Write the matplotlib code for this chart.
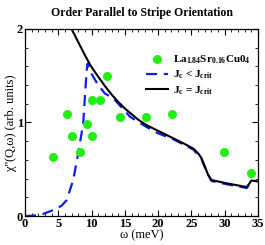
import numpy as np
import matplotlib
matplotlib.use("Agg")
import matplotlib.pyplot as plt
from matplotlib.ticker import MultipleLocator

plt.rcParams['font.family'] = ['Liberation Serif', 'DejaVu Serif']
plt.rcParams['font.weight'] = 'bold'
plt.rcParams['mathtext.fontset'] = 'custom'
plt.rcParams['mathtext.rm'] = 'Liberation Serif:bold'
plt.rcParams['mathtext.it'] = 'Liberation Serif:bold'
plt.rcParams['mathtext.bf'] = 'Liberation Serif:bold'

# Messpunkte (LSCO)
w_data = [4.25, 6.26, 7.1, 8.26, 9.26, 10.06, 10.1, 11.3, 12.3, 14.2, 18.2, 22.1, 29.9, 33.9]
chi_data = [0.63, 1.09, 0.86, 0.69, 0.98, 0.86, 1.24, 1.24, 1.50, 1.06, 1.06, 1.09, 0.69, 0.46]

# J_c = J_crit (schwarz)
w_black = [7.0, 7.5, 8.0, 8.5, 9.0, 9.76, 10.5, 11.3, 12.0, 13.0, 14.0, 15.0, 16.0, 17.0,
           18.3, 20.3, 22.3, 24.0, 25.3, 26.0, 26.5, 27.0, 27.5, 28.0, 30.3, 33.3, 33.7,
           34.0, 35.0]
chi_black = [2.0, 1.93, 1.86, 1.79, 1.72, 1.62, 1.54, 1.46, 1.39, 1.30, 1.22, 1.15, 1.09,
             1.03, 0.97, 0.90, 0.83, 0.77, 0.72, 0.67, 0.62, 0.53, 0.44, 0.385, 0.35,
             0.31, 0.35, 0.38, 0.37]

# J_c < J_crit (blau gestrichelt)
w_blue = [0.0, 2.25, 4.25, 5.5, 6.26, 7.25, 8.0, 8.75, 9.26, 9.4, 10.0, 11.0, 12.0, 13.26,
          15.8, 18.3, 19.8, 22.3, 25.3, 26.5, 27.3, 28.0, 30.3, 33.3, 33.6, 34.0]
chi_blue = [0.0, 0.01, 0.064, 0.11, 0.17, 0.385, 0.67, 0.99, 1.55, 1.63, 1.52, 1.40, 1.31,
            1.26, 1.06, 0.95, 0.89, 0.82, 0.71, 0.61, 0.47, 0.375, 0.34, 0.30, 0.33, 0.37]

fig = plt.figure(figsize=(2.65, 2.45), dpi=100)
ax = fig.add_axes([0.094, 0.118, 0.880, 0.764])

ax.plot(w_blue, chi_blue, color='#0a1ef0', lw=1.6, dashes=(5, 3),
        label=r'J$_c$ < J$_{crit}$', zorder=2)
ax.plot(w_black, chi_black, color='black', lw=1.5,
        label=r'J$_c$ = J$_{crit}$', zorder=3)
ax.plot(w_data, chi_data, 'o', color='#22ee11', ms=6.5, mec='none',
        label=r'La$_{1.84}$Sr$_{0.16}$Cu0$_4$', zorder=4)

ax.set_xlim(0, 35)
ax.set_ylim(0, 2)
ax.xaxis.set_major_locator(MultipleLocator(5))
ax.xaxis.set_minor_locator(MultipleLocator(1))
ax.yaxis.set_major_locator(MultipleLocator(1))
ax.yaxis.set_minor_locator(MultipleLocator(0.2))
ax.tick_params(which='both', direction='in', top=True, right=True, labelsize=9, pad=1.5)
ax.tick_params(which='major', length=4, width=0.8)
ax.tick_params(which='minor', length=2.2, width=0.6)
for s in ax.spines.values():
    s.set_linewidth(0.9)

ax.set_xlabel(r'ω (meV)', fontsize=9, labelpad=-1)
ax.set_ylabel(r"χ''(Q,ω) (arb. units)", fontsize=9, labelpad=0)
ax.set_title('Order Parallel to Stripe Orientation', fontsize=8.5, fontweight='bold', pad=9)

h, l = ax.get_legend_handles_labels()
ax.legend([h[2], h[0], h[1]], [l[2], l[0], l[1]], loc='upper right',
          bbox_to_anchor=(1.0, 0.91), frameon=False, fontsize=8,
          handlelength=2.0, handletextpad=0.4, labelspacing=0.25, borderpad=0.2)

fig.savefig('out.png', dpi=100)
